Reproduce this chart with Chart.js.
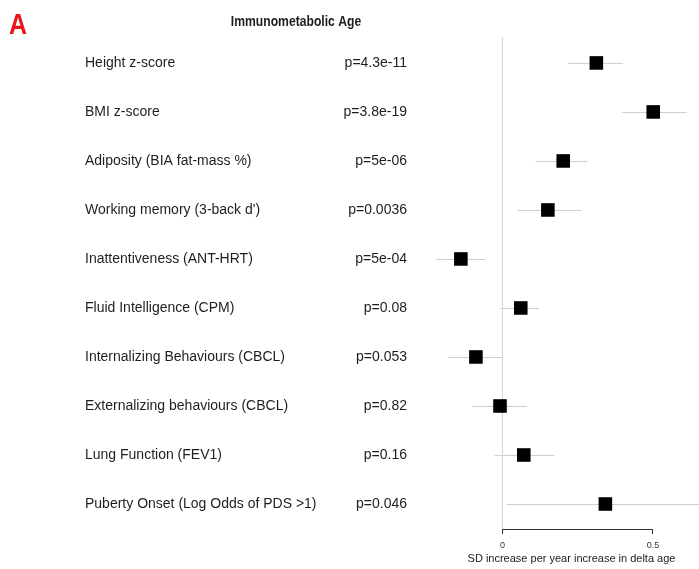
<!DOCTYPE html>
<html>
<head>
<meta charset="utf-8">
<script src="https://cdn.jsdelivr.net/npm/chart.js@4.4.1/dist/chart.umd.min.js"></script>
<style>
  html, body { margin: 0; padding: 0; background: #fff; }
  #wrap { width: 699px; height: 569px; position: relative; }
</style>
</head>
<body>
<div id="wrap"><canvas id="forest"></canvas></div>
<script>
// outcomes, top to bottom
const outcomes = [
  "Height z-score",
  "BMI z-score",
  "Adiposity (BIA fat-mass %)",
  "Working memory (3-back d')",
  "Inattentiveness (ANT-HRT)",
  "Fluid Intelligence (CPM)",
  "Internalizing Behaviours (CBCL)",
  "Externalizing behaviours (CBCL)",
  "Lung Function (FEV1)",
  "Puberty Onset (Log Odds of PDS >1)"
];
const pvalues = ["p=4.3e-11", "p=3.8e-19", "p=5e-06", "p=0.0036", "p=5e-04",
  "p=0.08", "p=0.053", "p=0.82", "p=0.16", "p=0.046"];
// SD increase per year increase in delta age
const estimate = [0.312, 0.501, 0.202, 0.151, -0.138, 0.061, -0.088, -0.008, 0.071, 0.342];
const ciLow    = [0.219, 0.398, 0.110, 0.050, -0.219, -0.007, -0.179, -0.099, -0.026, 0.014];
const ciHigh   = [0.401, 0.612, 0.282, 0.263, -0.056, 0.122, 0.002, 0.082, 0.173, 0.700];
const xTicks = [0, 0.5];

const points = estimate.map((v, i) => ({ x: v, y: i }));

const SANS = "'Liberation Sans', Arial, sans-serif";

// draw text squeezed horizontally (the original uses a condensed face)
function narrowText(ctx, text, x, y, sx) {
  ctx.save();
  ctx.translate(x, y);
  ctx.scale(sx, 1);
  ctx.fillText(text, 0, 0);
  ctx.restore();
}

// CI whiskers, zero line, short axis line, row labels
const forestPlugin = {
  id: "forest",
  beforeDatasetsDraw(chart) {
    const { ctx, chartArea, scales } = chart;
    const xs = scales.x, ys = scales.y;
    ctx.save();
    // reference line at 0
    ctx.strokeStyle = "#d4d4d4";
    ctx.lineWidth = 1;
    const x0 = Math.round(xs.getPixelForValue(0)) + 0.5;
    ctx.beginPath();
    ctx.moveTo(x0, chartArea.top + 2);
    ctx.lineTo(x0, chartArea.bottom);
    ctx.stroke();
    // whiskers
    ctx.strokeStyle = "#cfcfcf";
    for (let i = 0; i < estimate.length; i++) {
      const y = Math.round(ys.getPixelForValue(i)) + 0.5;
      ctx.beginPath();
      ctx.moveTo(xs.getPixelForValue(ciLow[i]), y);
      ctx.lineTo(xs.getPixelForValue(ciHigh[i]), y);
      ctx.stroke();
    }
    ctx.restore();
  },
  afterDraw(chart) {
    const { ctx, chartArea, scales } = chart;
    const xs = scales.x, ys = scales.y;
    ctx.save();
    // axis line only between the outer ticks
    ctx.strokeStyle = "#333";
    ctx.lineWidth = 1;
    const yb = Math.round(chartArea.bottom) + 0.5;
    ctx.beginPath();
    ctx.moveTo(xs.getPixelForValue(xTicks[0]), yb);
    ctx.lineTo(xs.getPixelForValue(xTicks[xTicks.length - 1]), yb);
    ctx.stroke();

    ctx.fillStyle = "#1e1e1e";
    ctx.font = "14px " + SANS;
    ctx.textBaseline = "middle";
    for (let i = 0; i < outcomes.length; i++) {
      const y = ys.getPixelForValue(i);
      ctx.textAlign = "left";
      ctx.fillText(outcomes[i], 85, y);
      ctx.textAlign = "right";
      ctx.fillText(pvalues[i], 407, y);
    }
    // title + panel letter
    ctx.textAlign = "center";
    ctx.textBaseline = "alphabetic";
    ctx.font = "bold 15px " + SANS;
    narrowText(ctx, "Immunometabolic Age", 296, 26, 0.81);
    ctx.fillStyle = "#e8151b";
    ctx.textAlign = "left";
    ctx.font = "bold 29px " + SANS;
    narrowText(ctx, "A", 9, 34, 0.86);
    ctx.restore();
  }
};

new Chart(document.getElementById("forest"), {
  type: "scatter",
  data: {
    datasets: [{
      data: points,
      pointStyle: "rect",
      pointRadius: 9.6,
      pointHoverRadius: 9.6,
      backgroundColor: "#000",
      borderColor: "#000",
      borderWidth: 0,
      clip: false
    }]
  },
  options: {
    responsive: true,
    maintainAspectRatio: false,
    animation: false,
    layout: { autoPadding: false, padding: { left: 444, right: 0, top: 35, bottom: 3 } },
    plugins: {
      legend: { display: false },
      tooltip: { enabled: false }
    },
    scales: {
      x: {
        type: "linear",
        min: -0.194,
        max: 0.653,
        afterBuildTicks: (axis) => { axis.ticks = xTicks.map(v => ({ value: v })); },
        border: { display: false },
        grid: { drawOnChartArea: false, drawTicks: true, tickLength: 5, color: "#333" },
        ticks: {
          color: "#333",
          font: { size: 9, family: SANS },
          padding: 6,
          maxRotation: 0,
          callback: (v) => String(v)
        },
        title: {
          display: true,
          text: "SD increase per year increase in delta age",
          color: "#222",
          font: { size: 11, family: SANS },
          padding: { top: -4, bottom: 0 }
        }
      },
      y: {
        type: "linear",
        display: false,
        reverse: true,
        min: -0.57,
        max: 9.51
      }
    }
  },
  plugins: [forestPlugin]
});
</script>
</body>
</html>
